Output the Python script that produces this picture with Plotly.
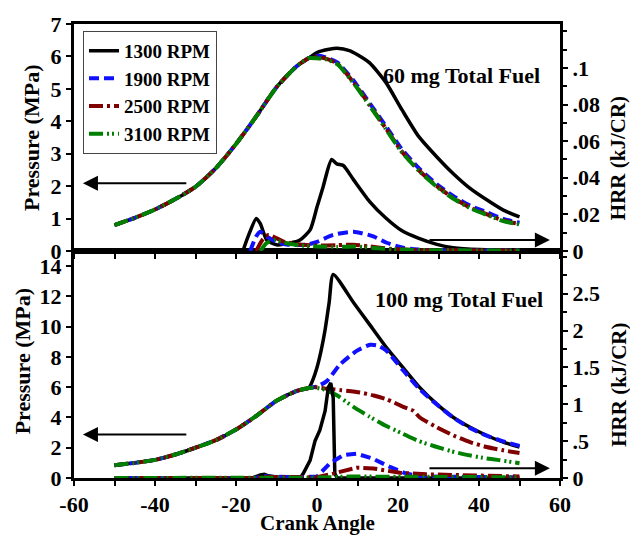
import plotly.graph_objects as go

series = ["1300 RPM", "1900 RPM", "2500 RPM", "3100 RPM"]
colors = ["#000000", "#1010FF", "#800000", "#008000"]
dashes = ["solid", "10px,5px", "14px,4px,3px,4px", "14px,4px,2px,3px,2px,4px"]
widths = [3.5, 4, 4, 4]

# tick values / labels
x_ticks = [-60, -40, -20, 0, 20, 40, 60]
x_labels = ["-60", "-40", "-20", "0", "20", "40", "60"]
p60_ticks = [0, 1, 2, 3, 4, 5, 6, 7]
p60_labels = ["0", "1", "2", "3", "4", "5", "6", "7"]
h60_ticks = [0, 0.02, 0.04, 0.06, 0.08, 0.1]
h60_labels = ["0", ".02", ".04", ".06", ".08", ".1"]
p100_ticks = [0, 2, 4, 6, 8, 10, 12, 14]
p100_labels = ["0", "2", "4", "6", "8", "10", "12", "14"]
h100_ticks = [0, 0.5, 1, 1.5, 2, 2.5]
h100_labels = ["0", ".5", "1", "1.5", "2", "2.5"]

# ---- 60 mg panel: pressure (MPa) ----
p60_ang_common = [-50, -45, -40, -35, -30, -25, -20, -15, -10, -5, -2]
p60_common = [0.80, 1.02, 1.28, 1.60, 1.98, 2.55, 3.30, 4.15, 5.05, 5.70, 5.95]
p60_1300_ang = [0, 3, 5, 8, 10, 13, 17, 21, 25, 29.6, 33.6, 37.8, 42, 46, 50]
p60_1300 = [6.12, 6.22, 6.25, 6.18, 6.05, 5.80, 5.20, 4.35, 3.55, 2.90, 2.39, 1.93, 1.57, 1.26, 1.05]
p60_oth_ang = [0, 2, 5, 9, 13, 17, 21, 25.4, 29.6, 33.6, 37.8, 42, 46, 50]
p60_1900 = [6.02, 5.98, 5.82, 5.26, 4.56, 3.85, 3.13, 2.52, 2.06, 1.70, 1.40, 1.19, 0.99, 0.87]
p60_2500 = [5.98, 5.94, 5.78, 5.20, 4.50, 3.78, 3.06, 2.46, 2.00, 1.64, 1.34, 1.13, 0.94, 0.83]
p60_3100 = [5.94, 5.92, 5.76, 5.18, 4.48, 3.76, 3.04, 2.44, 1.98, 1.62, 1.32, 1.11, 0.92, 0.82]

# ---- 60 mg panel: HRR (kJ/CR) ----
h60_1300_ang = [-18.3, -17, -15, -14, -12.4, -10, -6.7, -4.2, -1.7, 0, 1.5, 3.6, 4.9, 6.5, 9, 13, 17, 21, 25, 29.6, 33.6, 40, 50]
h60_1300 = [0, 0.008, 0.0178, 0.015, 0.006, 0.0034, 0.0043, 0.006, 0.0115, 0.024, 0.035, 0.050, 0.0476, 0.0467, 0.039, 0.027, 0.018, 0.011, 0.007, 0.0036, 0.0018, 0.0008, 0.0005]
h60_1900_ang = [-16.5, -15, -14, -12.5, -10, -7.5, -2.5, 0, 4, 9, 13.9, 17.2, 21.3, 25, 30, 50]
h60_1900 = [0, 0.008, 0.0105, 0.008, 0.005, 0.0035, 0.0035, 0.005, 0.0088, 0.0105, 0.008, 0.0045, 0.0018, 0.0008, 0.0004, 0.0003]
h60_2500_ang = [-15, -13.5, -12, -10, -8.4, -4.2, 0, 5, 9, 13, 18, 25, 50]
h60_2500 = [0, 0.006, 0.0088, 0.007, 0.0052, 0.0035, 0.003, 0.0032, 0.0034, 0.0025, 0.0012, 0.0005, 0.0003]
h60_3100_ang = [-14, -12.4, -10.5, -8, -4, 0, 5, 9, 14, 20, 30, 50]
h60_3100 = [0, 0.0045, 0.006, 0.0045, 0.003, 0.0025, 0.0022, 0.0025, 0.0017, 0.0008, 0.0004, 0.0003]

# ---- 100 mg panel: pressure (MPa) ----
p100_ang_common = [-50, -45, -40, -35, -30, -25, -20, -15, -10, -5, -2]
p100_common = [0.85, 1.00, 1.20, 1.55, 2.00, 2.50, 3.20, 4.10, 5.10, 5.75, 5.95]
p100_1300_ang = [-1, 0, 1, 2, 3, 4, 9, 13.1, 17.2, 21.3, 25.4, 29.6, 33.7, 37.8, 41.9, 46, 50]
p100_1300 = [6.5, 7.3, 8.4, 9.8, 11.6, 13.45, 11.6, 10.1, 8.6, 7.28, 5.97, 4.88, 4.0, 3.35, 2.81, 2.37, 2.05]
p100_1900_ang = [0, 2.4, 5.7, 9.8, 13.1, 15, 17.2, 21.3, 25.4, 29.6, 33.7, 37.8, 41.9, 46, 50]
p100_1900 = [6.05, 6.4, 7.5, 8.4, 8.8, 8.75, 8.4, 7.1, 5.85, 4.85, 3.98, 3.3, 2.8, 2.42, 2.12]
p100_2500_ang = [0, 2.4, 6, 10.6, 14, 17.2, 21.3, 23.8, 25.4, 29.6, 33.7, 37.8, 41.9, 46, 50]
p100_2500 = [6.0, 5.9, 5.8, 5.65, 5.45, 5.2, 4.7, 4.44, 4.0, 3.35, 2.81, 2.37, 2.05, 1.83, 1.65]
p100_3100_ang = [0, 2, 5, 9, 13, 17, 21, 25, 29, 33, 37, 41, 45, 50]
p100_3100 = [5.95, 5.82, 5.45, 4.7, 4.05, 3.45, 2.95, 2.45, 2.1, 1.78, 1.53, 1.33, 1.18, 0.98]

# ---- 100 mg panel: HRR (kJ/CR) ----
h100_1300_ang = [-50, -16, -14, -13, -12, -10, -4, -3.4, -1.7, -0.5, 0.7, 2, 2.8, 3.4, 4, 4.4, 5, 50]
h100_1300 = [0, 0, 0.04, 0.05, 0.03, 0.01, 0.01, 0.06, 0.24, 0.5, 0.65, 0.91, 1.23, 1.29, 1.09, 0.06, 0, 0]
h100_1900_ang = [-50, -15, -13.5, -12, -5, 0, 3.2, 6.5, 9.8, 13.9, 18, 22, 26, 50]
h100_1900 = [0, 0, 0.03, 0.02, 0.01, 0.02, 0.2, 0.31, 0.33, 0.26, 0.15, 0.06, 0.02, 0.01]
h100_2500_ang = [-50, -15, -12, 0, 4, 9.8, 13.9, 20.5, 27, 33.7, 50]
h100_2500 = [0, 0, 0.015, 0.01, 0.06, 0.14, 0.13, 0.07, 0.05, 0.04, 0.02]
h100_3100_ang = [-50, 0, 8, 20, 50]
h100_3100 = [0, 0.005, 0.02, 0.02, 0.01]

fig = go.Figure()

top_p = [(p60_1300_ang, p60_1300), (p60_oth_ang, p60_1900), (p60_oth_ang, p60_2500), (p60_oth_ang, p60_3100)]
top_h = [(h60_1300_ang, h60_1300), (h60_1900_ang, h60_1900), (h60_2500_ang, h60_2500), (h60_3100_ang, h60_3100)]
bot_p = [(p100_1300_ang, p100_1300), (p100_1900_ang, p100_1900), (p100_2500_ang, p100_2500), (p100_3100_ang, p100_3100)]
bot_h = [(h100_1300_ang, h100_1300), (h100_1900_ang, h100_1900), (h100_2500_ang, h100_2500), (h100_3100_ang, h100_3100)]

def add(xs, ys, i, xa, ya, legend, shape="spline"):
    line = dict(color=colors[i], width=widths[i], dash=dashes[i], shape=shape)
    if shape == "spline":
        line["smoothing"] = 0.6
    fig.add_trace(go.Scatter(
        x=xs, y=ys, mode="lines", name=series[i], showlegend=legend,
        xaxis=xa, yaxis=ya, line=line,
    ))

for i in range(4):
    xs, ys = top_p[i]
    add(p60_ang_common + xs, p60_common + ys, i, "x2", "y", True)
for i in range(4):
    xs, ys = top_h[i]
    add(xs, ys, i, "x2", "y2", False)
for i in range(4):
    xs, ys = bot_p[i]
    add(p100_ang_common + xs, p100_common + ys, i, "x", "y3", False)
for i in range(4):
    xs, ys = bot_h[i]
    add(xs, ys, i, "x", "y4", False, shape="linear")

def bold(labels):
    return ["<b>%s</b>" % s for s in labels]

tickfont = dict(family="Liberation Serif", size=22, color="black", weight=700)
axis_common = dict(showline=True, linewidth=3, linecolor="black", ticks="outside",
                   ticklen=5, tickwidth=2, tickcolor="black", showgrid=False, zeroline=False,
                   tickfont=tickfont)
minor_x = dict(tickvals=[-50, -30, -10, 10, 30, 50], ticks="outside", ticklen=5, tickwidth=2, tickcolor="black")

fig.update_layout(
    width=630, height=536,
    margin=dict(l=74, r=70, t=19, b=58),
    paper_bgcolor="white", plot_bgcolor="white",
    font=dict(family="Liberation Serif", size=20, color="black", weight="bold"),
    xaxis=dict(domain=[0, 1], anchor="y3", range=[-60, 60], mirror=True,
               tickvals=x_ticks, ticktext=bold(x_labels), minor=minor_x,
               **axis_common),
    xaxis2=dict(domain=[0, 1], anchor="y", range=[-60, 60], matches="x", showticklabels=False, mirror=True,
                tickvals=x_ticks, ticktext=bold(x_labels), minor=minor_x,
                **axis_common),
    yaxis=dict(domain=[0.5, 1], anchor="x2", range=[0, 7], tickvals=p60_ticks, ticktext=bold(p60_labels), **axis_common),
    yaxis2=dict(overlaying="y", side="right", anchor="x2", range=[0, 0.124],
                tickvals=h60_ticks, ticktext=bold(h60_labels),
                minor=dict(dtick=0.01, ticks="outside", ticklen=4, tickwidth=2, tickcolor="black"),
                **axis_common),
    yaxis3=dict(domain=[0, 0.5], anchor="x", range=[0, 15], tickvals=p100_ticks, ticktext=bold(p100_labels), **axis_common),
    yaxis4=dict(overlaying="y3", side="right", anchor="x", range=[0, 3.08],
                tickvals=h100_ticks, ticktext=bold(h100_labels),
                minor=dict(dtick=0.25, ticks="outside", ticklen=4, tickwidth=2, tickcolor="black"),
                **axis_common),
    legend=dict(x=0.0185, y=0.985, xanchor="left", yanchor="top", bgcolor="white",
                bordercolor="#444", borderwidth=1,
                font=dict(family="Liberation Serif", size=19, color="black", weight="bold"), tracegroupgap=0),
    showlegend=True,
)

afont = dict(family="Liberation Serif", size=22, color="black", weight="bold")
hfont = dict(family="Liberation Serif", size=21, color="black", weight="bold")
annos = [
    dict(text="60 mg Total Fuel", x=35.8, y=5.4, xref="x2", yref="y", font=afont),
    dict(text="100 mg Total Fuel", x=35.1, y=11.8, xref="x", yref="y3", font=afont),
    dict(text="Pressure (MPa)", x=-0.0864, y=0.749, xref="paper", yref="paper", textangle=-90, font=afont),
    dict(text="Pressure (MPa)", x=-0.107, y=0.257, xref="paper", yref="paper", textangle=-90, font=afont),
    dict(text="HRR (kJ/CR)", x=1.121, y=0.704, xref="paper", yref="paper", textangle=-90, font=hfont),
    dict(text="HRR (kJ/CR)", x=1.121, y=0.205, xref="paper", yref="paper", textangle=-90, font=hfont),
    dict(text="Crank Angle", x=0.5, y=-0.099, xref="paper", yref="paper", font=hfont),
]
for a in annos:
    a.update(showarrow=False, xanchor="center", yanchor="middle")
arrows = [
    ("x2", "y", -57.8, 2.09, -31.9),
    ("x2", "y", 57.5, 0.34, 27.4),
    ("x", "y3", -57.8, 2.88, -31.9),
    ("x", "y3", 57.5, 0.65, 27.4),
]
for xr, yr, xh, yv, xt in arrows:
    annos.append(dict(text="", x=xh, y=yv, ax=xt, ay=yv, xref=xr, yref=yr, axref=xr, ayref=yr,
                      showarrow=True, arrowhead=2, arrowsize=1.5, arrowwidth=2, arrowcolor="black"))
fig.update_layout(annotations=annos)

fig.write_html("out.html")
